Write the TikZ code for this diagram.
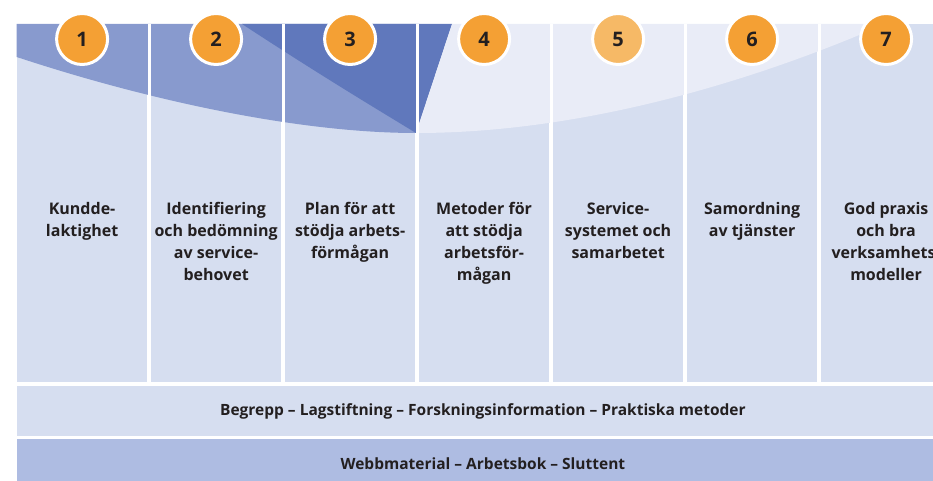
\documentclass[tikz,border=0pt]{standalone}
\usepackage{fontspec}
\setmainfont{Open Sans}
\usetikzlibrary{positioning}
\definecolor{paleBlue}{HTML}{D6DEF0}
\definecolor{midBlue}{HTML}{889ACE}
\definecolor{deepBlue}{HTML}{6078BC}
\definecolor{mistBlue}{HTML}{E9ECF7}
\definecolor{bandBlue}{HTML}{AEBCE2}
\definecolor{badgeOrange}{HTML}{F4A034}
\definecolor{badgeLight}{HTML}{F6B966}
\definecolor{inkGray}{HTML}{231F20}

\begin{document}
\begin{tikzpicture}[x=1pt, y=1pt, node distance=3.2pt]
        \tikzstyle{column} = [rectangle, minimum width=130.4pt, minimum height=357.7pt, inner sep=0pt, fill=paleBlue]
        \tikzstyle{band} = [rectangle, minimum width=932pt, minimum height=49.4pt, inner sep=0pt, text=inkGray, font=\bfseries\fontsize{15.5}{18}\selectfont]
        \tikzstyle{title} = [align=center, inner sep=0pt, text=inkGray, font=\bfseries\fontsize{16}{22}\selectfont]
        \tikzstyle{badge} = [circle, minimum size=51pt, inner sep=0pt, fill=badgeOrange, draw=white, line width=3pt, text=inkGray, font=\bfseries\fontsize{20}{24}\selectfont]
        \useasboundingbox (0,0) rectangle (933,480);
        \clip (0,0) rectangle (933,480);

        \node[column, anchor=north west] (col1) at (16.7,456) {};
        \node[column, right=of col1] (col2) {};
        \node[column, right=of col2] (col3) {};
        \node[column, right=of col3] (col4) {};
        \node[column, right=of col4] (col5) {};
        \node[column, right=of col5] (col6) {};
        \node[column, right=of col6] (col7) {};

        %curved layers over the columns
        \fill[midBlue] (16.7,456) -- (16.7,423) .. controls (150,379) and (300,347) .. (416,347) -- (416,456) -- cycle;
        \fill[deepBlue] (242,456) .. controls (320,405) and (370,375) .. (416,347) -- (452,456) -- cycle;
        \fill[mistBlue] (452,456) -- (416,347) .. controls (600,347) and (780,410) .. (885,456) -- cycle;

        %white gaps between the columns
        \fill[white] (col1.north east) rectangle (col2.south west);
        \fill[white] (col2.north east) rectangle (col3.south west);
        \fill[white] (col3.north east) rectangle (col4.south west);
        \fill[white] (col4.north east) rectangle (col5.south west);
        \fill[white] (col5.north east) rectangle (col6.south west);
        \fill[white] (col6.north east) rectangle (col7.south west);

        \node[title, below=178pt of col1.north] (kund) {Kundde-\\laktighet};
        \node[title, below=178pt of col2.north] (behov) {Identifiering\\och bedömning\\av service-\\behovet};
        \node[title, below=178pt of col3.north] (plan) {Plan för att\\stödja arbets-\\förmågan};
        \node[title, below=178pt of col4.north] (metod) {Metoder för\\att stödja\\arbetsför-\\mågan};
        \node[title, below=178pt of col5.north] (system) {Service-\\systemet och\\samarbetet};
        \node[title, below=178pt of col6.north] (samord) {Samordning\\av tjänster};
        \node[title, below=178pt of col7.north] (praxis) {God praxis\\och bra\\verksamhets-\\modeller};

        \node[badge] (n1) at ([yshift=-15pt]col1.north) {1};
        \node[badge] (n2) at ([yshift=-15pt]col2.north) {2};
        \node[badge] (n3) at ([yshift=-15pt]col3.north) {3};
        \node[badge] (n4) at ([yshift=-15pt]col4.north) {4};
        \node[badge, fill=badgeLight] (n5) at ([yshift=-15pt]col5.north) {5};
        \node[badge] (n6) at ([yshift=-15pt]col6.north) {6};
        \node[badge] (n7) at ([yshift=-15pt]col7.north) {7};

        %bands under the columns
        \node[band, fill=paleBlue, below=4pt of col1.south west, anchor=north west] (facts) {Begrepp – Lagstiftning – Forskningsinformation – Praktiska metoder};
        \node[band, fill=bandBlue, below=3.2pt of facts.south west, anchor=north west] (material) {Webbmaterial – Arbetsbok – Sluttent};
    \end{tikzpicture}
\end{document}
